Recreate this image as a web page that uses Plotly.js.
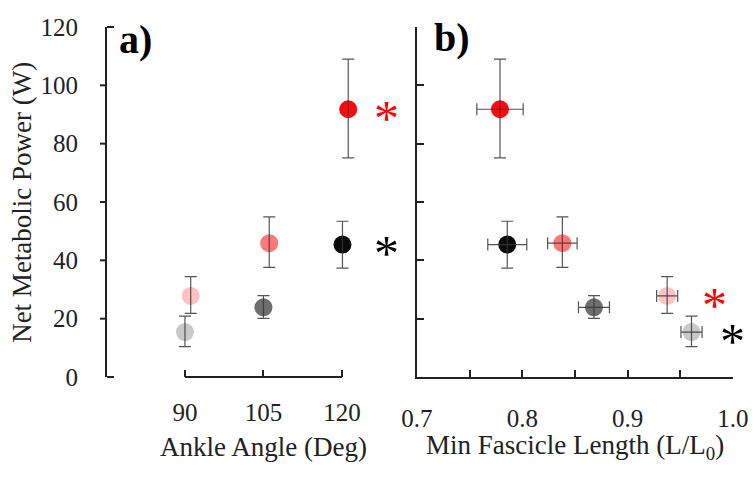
<!DOCTYPE html>
<html>
<head>
<meta charset="utf-8">
<script src="https://cdn.plot.ly/plotly-3.0.1.min.js"></script>
<style>html,body{margin:0;padding:0;background:#fff;}#chart{width:755px;height:499px;}</style>
</head>
<body>
<div id="chart"></div>
<script>
// Conditions (light to dark / pink to red)
var conditionColors = ['#c8c8c8', '#ffc2c2', '#6e6e6e', '#ff7777', '#0a0a0a', '#ff0a0a'];
// Panel a: ankle angle (deg)
var ankleAngle = [90, 91.1, 105, 106.1, 120.1, 121.2];
// Net metabolic power (W)
var netPower = [15.4, 27.8, 23.9, 45.9, 45.4, 91.8];
var powerErrPlus = [5.5, 6.6, 4.0, 9.0, 8.0, 17.2];
var powerErrMinus = [5.0, 6.0, 3.8, 8.3, 8.1, 16.7];
// Panel b: min fascicle length (L/L0)
var fascicleLength = [0.9606, 0.9375, 0.868, 0.838, 0.7857, 0.7788];
var fascicleErr = [0.010, 0.010, 0.0147, 0.014, 0.0185, 0.022];
// Tick labels
var ankleTicks = [90, 105, 120];
var powerTicks = [0, 20, 40, 60, 80, 100, 120];
var fascicleTicks = [0.7, 0.8, 0.9, 1.0];
var fascicleMinorStep = 0.05;
// Significance stars
var starAX = [128.6, 128.6], starAY = [91.5, 45.3], starAColor = ['#ff0000', '#000000'];
var starBX = [0.9827, 1.0], starBY = [27, 14.7], starBColor = ['#ff0000', '#000000'];

var FONT = 'Liberation Serif';
var TXT = '#222';
var ERR = 'rgba(55,55,55,0.85)';

var traces = [
  {x: ankleAngle, y: netPower, xaxis: 'x', yaxis: 'y', type: 'scatter', mode: 'markers',
   marker: {size: 18, color: conditionColors}, hoverinfo: 'skip'},
  {x: ankleAngle, y: netPower, xaxis: 'x', yaxis: 'y', type: 'scatter', mode: 'markers',
   marker: {size: 1, color: 'rgba(0,0,0,0)'}, hoverinfo: 'skip',
   error_y: {type: 'data', symmetric: false, array: powerErrPlus, arrayminus: powerErrMinus,
             color: ERR, thickness: 1.2, width: 6}},
  {x: fascicleLength, y: netPower, xaxis: 'x2', yaxis: 'y2', type: 'scatter', mode: 'markers',
   marker: {size: 18, color: conditionColors}, hoverinfo: 'skip'},
  {x: fascicleLength, y: netPower, xaxis: 'x2', yaxis: 'y2', type: 'scatter', mode: 'markers',
   marker: {size: 1, color: 'rgba(0,0,0,0)'}, hoverinfo: 'skip',
   error_y: {type: 'data', symmetric: false, array: powerErrPlus, arrayminus: powerErrMinus,
             color: ERR, thickness: 1.2, width: 6},
   error_x: {type: 'data', array: fascicleErr, color: ERR, thickness: 1.2, width: 6}}
];

var shapes = [];
shapes.push({type: 'line', xref: 'x', yref: 'y domain', x0: ankleTicks[0], x1: ankleTicks[ankleTicks.length - 1],
  y0: 0, y1: 0, line: {color: TXT, width: 2}, layer: 'above'});
powerTicks.forEach(function (v, i) {
  var isEnd = (i === 0 || i === powerTicks.length - 1);
  shapes.push({type: 'line', xref: 'paper', xsizemode: 'pixel', xanchor: 0,
    x0: isEnd ? 0 : -7, x1: isEnd ? 7 : 0,
    yref: isEnd ? 'y domain' : 'y', y0: isEnd ? i / (powerTicks.length - 1) : v, y1: isEnd ? i / (powerTicks.length - 1) : v,
    line: {color: TXT, width: 2}, layer: 'above'});
});

var annotations = [
  {xref: 'paper', yref: 'paper', x: -0.136, y: 0.5, text: 'Net Metabolic Power (W)', textangle: -90,
   showarrow: false, font: {family: FONT, size: 27, color: TXT}, xanchor: 'center', yanchor: 'middle'},
  {xref: 'x', yref: 'paper', x: 105, y: -0.2, text: 'Ankle Angle (Deg)', showarrow: false,
   font: {family: FONT, size: 27, color: TXT}, xanchor: 'center', yanchor: 'middle'},
  {xref: 'x2', yref: 'paper', x: 0.85, y: -0.2, text: 'Min Fascicle Length (L/L<sub>0</sub>)', showarrow: false,
   font: {family: FONT, size: 27, color: TXT}, xanchor: 'center', yanchor: 'middle'},
  {xref: 'paper', yref: 'paper', x: 0.016, y: 1.035, text: '<b>a)</b>', showarrow: false,
   font: {family: FONT, size: 40, color: '#000'}, xanchor: 'left', yanchor: 'top'},
  {xref: 'paper', yref: 'paper', x: 0.5192, y: 1.04, text: '<b>b)</b>', showarrow: false,
   font: {family: FONT, size: 40, color: '#000'}, xanchor: 'left', yanchor: 'top'}
];
starAX.forEach(function (x, i) {
  annotations.push({xref: 'x', yref: 'y', x: x, y: starAY[i], text: '*', showarrow: false, yshift: -8,
    font: {family: FONT, size: 50, color: starAColor[i]}, xanchor: 'center', yanchor: 'middle'});
});
starBX.forEach(function (x, i) {
  annotations.push({xref: 'x2', yref: 'y2', x: x, y: starBY[i], text: '*', showarrow: false, yshift: -7,
    font: {family: FONT, size: 50, color: starBColor[i]}, xanchor: 'center', yanchor: 'middle'});
});

var layout = {
  width: 755, height: 499,
  margin: {l: 107, r: 22, t: 27, b: 122},
  paper_bgcolor: '#fff', plot_bgcolor: '#fff',
  showlegend: false,
  xaxis: {domain: [0, 0.46], range: [75.1, 130.13], showgrid: false, zeroline: false, showline: false,
    tickvals: ankleTicks, ticks: 'inside', ticklen: 7, tickwidth: 2, tickcolor: TXT,
    tickfont: {family: FONT, size: 25, color: TXT}, ticklabelstandoff: 18},
  yaxis: {domain: [0, 1], range: [0, 120], showgrid: false, zeroline: false, showline: true,
    linecolor: TXT, linewidth: 2, tickvals: powerTicks, ticks: '',
    tickfont: {family: FONT, size: 25, color: TXT}, ticklabelstandoff: 22},
  xaxis2: {domain: [0.4952, 1], range: [0.7, 1.0], anchor: 'y2', showgrid: false, zeroline: false,
    showline: true, linecolor: TXT, linewidth: 2,
    tickvals: fascicleTicks, tickformat: '.1f', ticks: 'inside', ticklen: 7, tickwidth: 2, tickcolor: TXT,
    minor: {dtick: fascicleMinorStep, tick0: fascicleTicks[0], ticks: 'inside', ticklen: 7, tickwidth: 2, tickcolor: TXT, showgrid: false},
    tickfont: {family: FONT, size: 25, color: TXT}, ticklabelstandoff: 18},
  yaxis2: {domain: [0, 1], range: [0, 120], anchor: 'x2', showgrid: false, zeroline: false,
    showline: true, linecolor: TXT, linewidth: 2, tickvals: powerTicks, ticks: 'inside', ticklen: 7,
    tickwidth: 2, tickcolor: TXT, showticklabels: false},
  shapes: shapes,
  annotations: annotations
};

Plotly.newPlot('chart', traces, layout, {staticPlot: true, displayModeBar: false});
</script>
</body>
</html>
